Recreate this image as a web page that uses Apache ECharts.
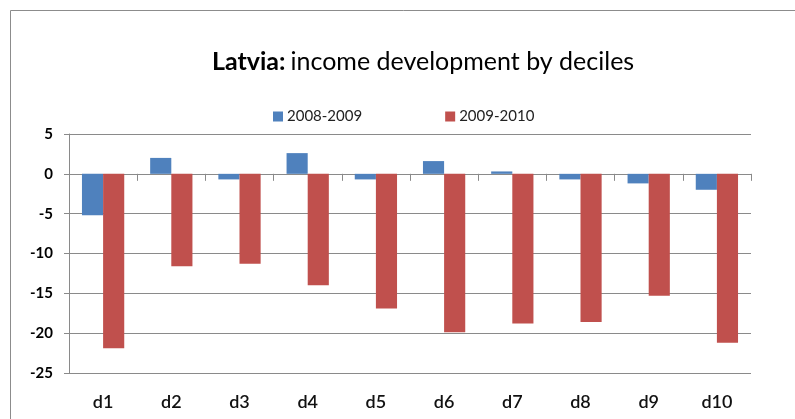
<!DOCTYPE html>
<html>
<head>
<meta charset="utf-8">
<script src="https://cdn.jsdelivr.net/npm/echarts@6/dist/echarts.min.js"></script>
<style>
  html, body { margin: 0; padding: 0; background: #fff; }
  #chart { width: 795px; height: 419px; }
</style>
</head>
<body>
<div id="chart"></div>
<script>
// Income change by decile, Latvia (%)
const deciles = ['d1', 'd2', 'd3', 'd4', 'd5', 'd6', 'd7', 'd8', 'd9', 'd10'];
const change2008_2009 = [-5.2, 2.0, -0.7, 2.6, -0.7, 1.6, 0.3, -0.7, -1.2, -2.0];
const change2009_2010 = [-21.9, -11.6, -11.3, -14.0, -16.9, -19.9, -18.8, -18.6, -15.3, -21.2];
const seriesNames = ['2008-2009', '2009-2010'];
const yTicks = { min: -25, max: 5, interval: 5 };

const FONT = 'Lato, "Open Sans", sans-serif';
const GRID_GRAY = '#8a8a8a';

const chart = echarts.init(document.getElementById('chart'), null, { renderer: 'canvas' });

chart.setOption({
  backgroundColor: '#ffffff',
  animation: false,
  graphic: [{
    type: 'rect',
    shape: { x: 10.5, y: 10.5, width: 900, height: 600 },
    style: { fill: 'none', stroke: '#8c8c8c', lineWidth: 1 },
    silent: true,
    z: -10
  }],
  title: {
    left: 207,
    top: 44,
    text: '{b|Latvia:} {r|income development by deciles}',
    textStyle: {
      rich: {
        b: { fontFamily: FONT, fontSize: 25, fontWeight: 'bold', color: '#000' },
        r: { fontFamily: FONT, fontSize: 25, fontWeight: 'normal', color: '#000' }
      }
    }
  },
  legend: {
    left: 268,
    top: 104,
    itemWidth: 10,
    itemHeight: 10,
    itemGap: 83,
    textStyle: { fontFamily: FONT, fontSize: 15, color: '#222', padding: [0, 0, 0, -1] },
    data: [
      { name: seriesNames[0], icon: 'rect' },
      { name: seriesNames[1], icon: 'rect' }
    ]
  },
  grid: { left: 69, right: 44, top: 134, bottom: 46, containLabel: false },
  xAxis: [
    {
      type: 'category',
      data: deciles,
      position: 'bottom',
      axisLine: { show: false, onZero: false },
      axisTick: { show: false },
      axisLabel: { fontFamily: FONT, fontSize: 18, fontWeight: 600, color: '#111', margin: 20 }
    },
    {
      type: 'category',
      data: deciles,
      position: 'top',
      axisLine: { show: true, onZero: true, lineStyle: { color: GRID_GRAY, width: 1 } },
      axisTick: { show: true, inside: true, length: 7, alignWithLabel: false, lineStyle: { color: GRID_GRAY } },
      axisLabel: { show: false }
    }
  ],
  yAxis: {
    type: 'value',
    min: yTicks.min,
    max: yTicks.max,
    interval: yTicks.interval,
    axisLine: { show: true, lineStyle: { color: GRID_GRAY, width: 1 } },
    axisTick: { show: true, length: 5, lineStyle: { color: GRID_GRAY } },
    axisLabel: { fontFamily: FONT, fontSize: 15, fontWeight: 'bold', color: '#000', margin: 16 },
    splitLine: { show: true, lineStyle: { color: GRID_GRAY, width: 1 } }
  },
  series: [
    {
      name: seriesNames[0],
      type: 'bar',
      xAxisIndex: 0,
      data: change2008_2009,
      barGap: '0%',
      barCategoryGap: '38%',
      itemStyle: { color: '#4F81BD' }
    },
    {
      name: seriesNames[1],
      type: 'bar',
      xAxisIndex: 0,
      data: change2009_2010,
      barGap: '0%',
      barCategoryGap: '38%',
      itemStyle: { color: '#C0504D' }
    }
  ]
});
</script>
</body>
</html>
